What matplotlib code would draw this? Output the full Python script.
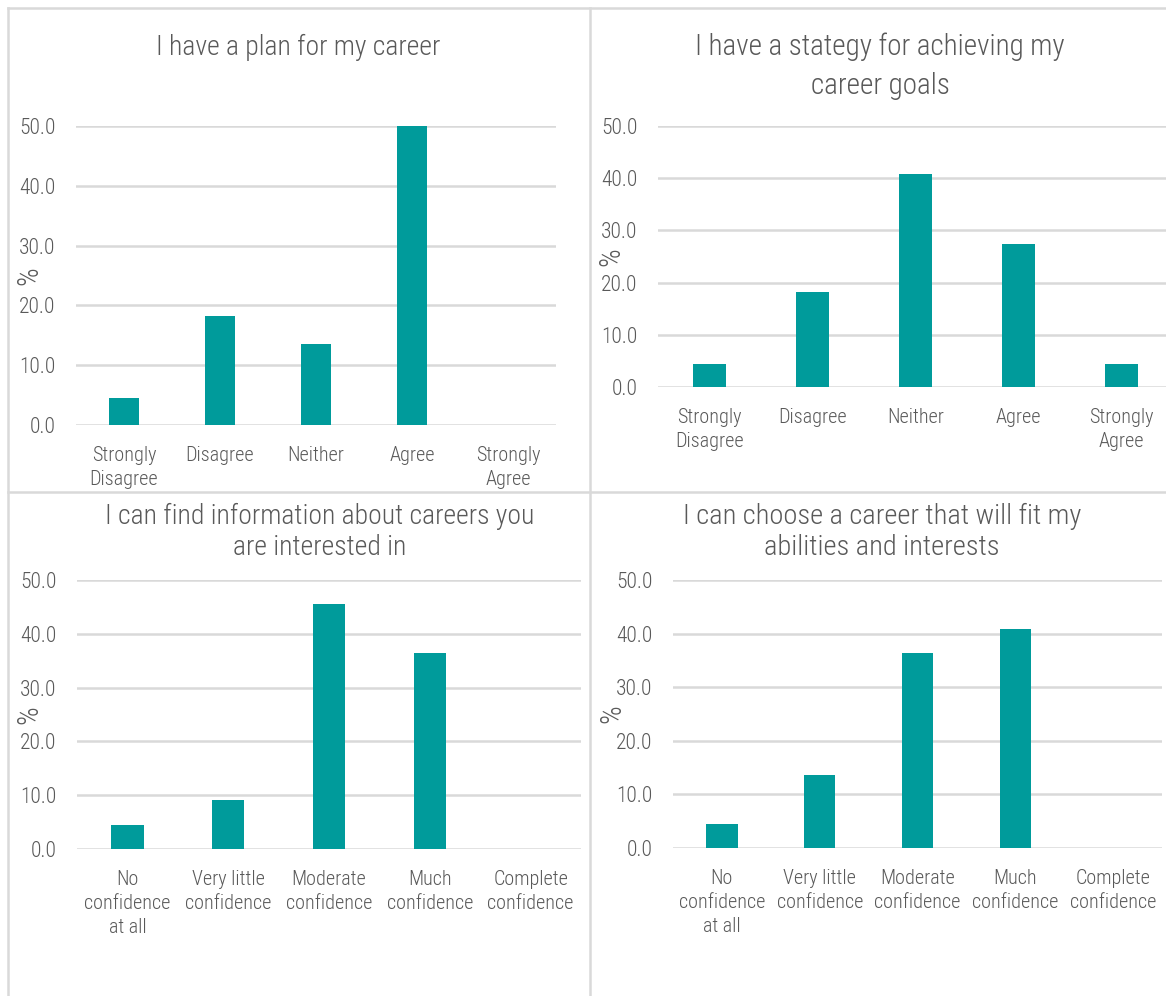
import matplotlib
matplotlib.use("Agg")
import matplotlib.pyplot as plt
from matplotlib.lines import Line2D

plt.rcParams['font.family'] = ['Roboto Condensed', 'Pragati Narrow', 'Liberation Sans', 'DejaVu Sans']
plt.rcParams['font.weight'] = 300

# survey answers, % of respondents
agree_labels = ['Strongly\nDisagree', 'Disagree', 'Neither', 'Agree', 'Strongly\nAgree']
conf_labels = ['No\nconfidence\nat all', 'Very little\nconfidence', 'Moderate\nconfidence',
               'Much\nconfidence', 'Complete\nconfidence']

plan_pct = [4.5, 18.2, 13.6, 50.0, 0.0]
strategy_pct = [4.5, 18.2, 40.9, 27.3, 4.5]
find_info_pct = [4.5, 9.1, 45.5, 36.4, 0.0]
choose_pct = [4.5, 13.6, 36.4, 40.9, 0.0]

titles = ['I have a plan for my career',
          'I have a stategy for achieving my\ncareer goals',
          'I can find information about careers you\nare interested in',
          'I can choose a career that will fit my\nabilities and interests']
yticks = [0, 10, 20, 30, 40, 50]

TEAL = '#009B9B'
TXT = '#595959'
GRID = '#D9D9D9'

W, H = 1166, 996
fig = plt.figure(figsize=(W / 100, H / 100), dpi=100)

def px_axes(x0, x1, ytop, ybot):
    return fig.add_axes([x0 / W, 1 - ybot / H, (x1 - x0) / W, (ybot - ytop) / H])

panels = [
    # (x0, x1, y50, y0, "%" x, title centre x, title centre y, title size, title line spacing)
    (76, 556, 126, 425, 43, 298, 47, 20, 1.3, agree_labels, plan_pct),
    (658, 1173, 126, 387, 625, 880, 66, 21, 1.5, agree_labels, strategy_pct),
    (77, 581, 580, 849, 43, 320, 532, 20, 1.18, conf_labels, find_info_pct),
    (673, 1162, 580, 848, 626, 882, 532, 20.5, 1.15, conf_labels, choose_pct),
]

for i, (x0, x1, ytop, ybot, lx, tx, ty, tsize, tls, cats, vals) in enumerate(panels):
    ax = px_axes(x0, x1, ytop, ybot)
    pos = range(len(cats))
    ax.bar(pos, vals, width=0.32, color=TEAL, zorder=3)
    ax.set_xlim(-0.5, len(cats) - 0.5)
    ax.set_ylim(0, 50)
    ax.set_yticks(yticks)
    ax.set_yticklabels([f'{v:.1f}' for v in yticks])
    ax.set_xticks(list(pos))
    ax.set_xticklabels(cats, linespacing=1.35)
    ax.grid(axis='y', color=GRID, lw=1.8, zorder=0)
    ax.set_axisbelow(True)
    for s in ax.spines.values():
        s.set_visible(False)
    ax.tick_params(axis='y', length=0, pad=15, labelsize=15.5, labelcolor=TXT)
    ax.tick_params(axis='x', length=0, pad=15, labelsize=14.5, labelcolor=TXT)
    ax.set_ylabel('%', fontsize=21, color=TXT, fontweight=300)
    ax.yaxis.set_label_coords((lx - x0) / (x1 - x0), 0.5)
    fig.text(tx / W, 1 - ty / H, titles[i], ha='center', va='center',
             fontsize=tsize, color=TXT, linespacing=tls)

# light frame around the four panels
for (xa, xb), (ya, yb) in [((8, W), (8, 8)), ((8, 8), (8, H)), ((590, 590), (8, H)), ((8, W), (492, 492))]:
    fig.add_artist(Line2D([xa / W, xb / W], [1 - ya / H, 1 - yb / H],
                          transform=fig.transFigure, color=GRID, lw=1.8))

fig.savefig('out.png', dpi=100)
